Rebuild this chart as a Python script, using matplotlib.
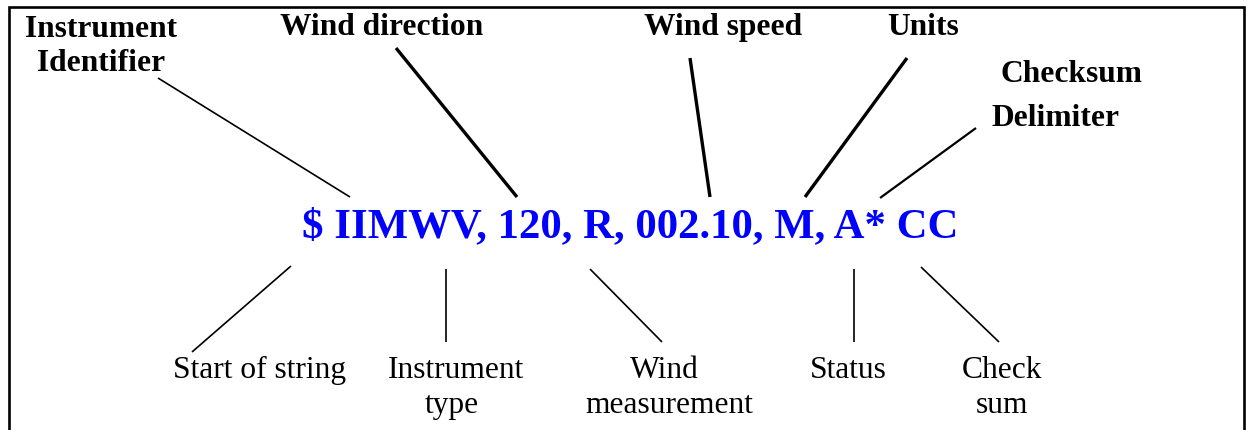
import matplotlib
matplotlib.use("Agg")
import matplotlib.pyplot as plt

# NMEA wind sentence and its annotated fields
sentence = "$ IIMWV, 120, R, 002.10, M, A* CC"

# top labels (bold): text, x centre, baseline y (pixels from top)
top_labels = ["Instrument", "Identifier", "Wind direction", "Wind speed", "Units", "Checksum", "Delimiter"]
top_x = [101, 101, 382, 723, 923, 1071, 1056]
top_y = [37, 71, 35, 35, 35, 82, 126]

# bottom labels (regular)
bottom_labels = ["Start of string", "Instrument", "type", "Wind", "measurement", "Status", "Check", "sum"]
bottom_x = [260, 456, 452, 664, 669, 848, 1002, 1002]
bottom_y = [378, 378, 413, 378, 413, 378, 378, 413]

# leader lines: (x0, y0, x1, y1, width)
leaders = [
    (158, 78, 350, 197, 1.2),
    (396, 48, 517, 197, 2.4),
    (690, 58, 710, 197, 2.4),
    (907, 58, 805, 197, 2.4),
    (976, 128, 880, 198, 1.6),
    (291, 266, 192, 352, 1.2),
    (446, 269, 446, 342, 1.2),
    (590, 269, 662, 342, 1.2),
    (854, 269, 854, 342, 1.2),
    (921, 267, 999, 342, 1.2),
]

W, H = 1252, 430
fig = plt.figure(figsize=(W / 100, H / 100), dpi=100)
ax = fig.add_axes([0, 0, 1, 1])
ax.set_xlim(0, W)
ax.set_ylim(H, 0)
ax.axis("off")

# open-bottom frame
ax.plot([9, 9, 1244, 1244], [H, 7, 7, H], color="black", lw=1.9, solid_joinstyle="miter")

for x0, y0, x1, y1, lw in leaders:
    ax.plot([x0, x1], [y0, y1], color="black", lw=lw, solid_capstyle="butt")

serif = ["Liberation Serif", "DejaVu Serif"]
for label, x, y in zip(top_labels, top_x, top_y):
    ax.text(x, y, label, ha="center", va="baseline", fontsize=22.7,
            fontweight="bold", family=serif)

for label, x, y in zip(bottom_labels, bottom_x, bottom_y):
    ax.text(x, y, label, ha="center", va="baseline", fontsize=22.7, family=serif)

ax.text(630, 237, sentence, ha="center", va="baseline", fontsize=30.8,
        fontweight="bold", color="#0000FF", family=serif)

fig.savefig("out.png", dpi=100)
